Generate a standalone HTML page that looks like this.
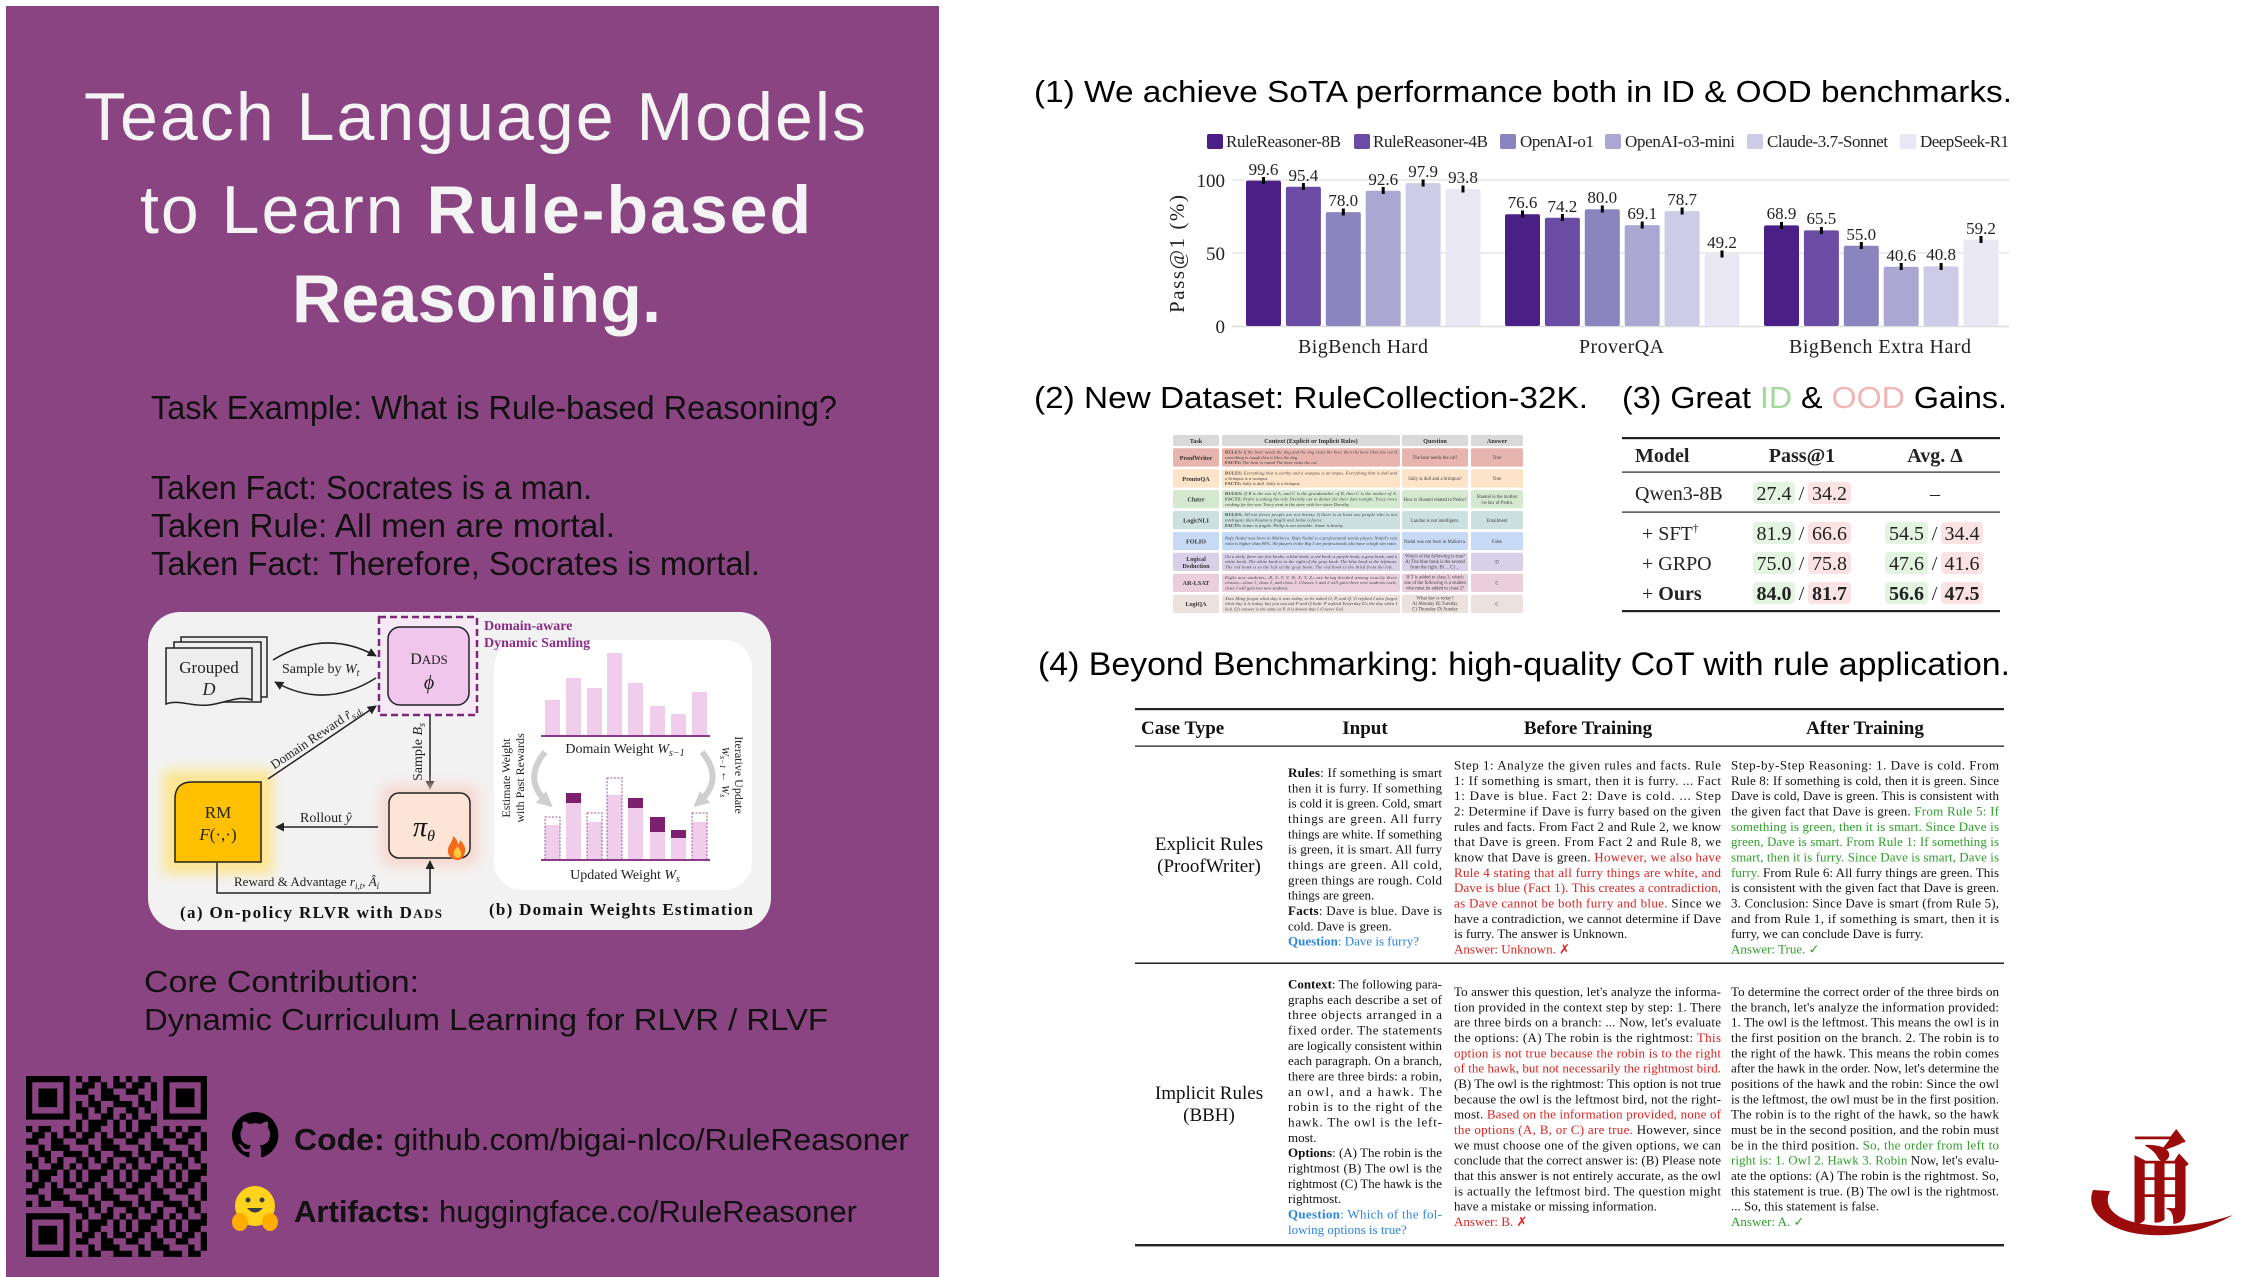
<!DOCTYPE html>
<html><head><meta charset="utf-8">
<style>
html,body{margin:0;padding:0;background:#fff;}
body{width:2258px;height:1277px;overflow:hidden;}
svg{display:block}
.sans{font-family:"Liberation Sans","Noto Sans CJK SC",sans-serif;}
.serif{font-family:"Liberation Serif","DejaVu Serif",serif;}
.b13{font-family:"Liberation Serif","DejaVu Serif",serif;font-size:13px;fill:#111;}
.red{fill:#D9231F}.grn{fill:#2E9E2A}.blu{fill:#2B86E0}
.tiny{font-family:"Liberation Serif",serif;font-size:4.6px;fill:#444;font-style:italic}
.tq{font-family:"Liberation Serif",serif;font-size:4.8px;fill:#444}
.tl{font-family:"Liberation Serif",serif;font-size:6.2px;fill:#333;font-weight:bold}
</style></head>
<body>
<svg width="2258" height="1277" viewBox="0 0 2258 1277" xmlns="http://www.w3.org/2000/svg">
<defs>
<marker id="ah" viewBox="0 0 10 10" refX="9" refY="5" markerWidth="6" markerHeight="6" orient="auto"><path d="M0 0L10 5L0 10z" fill="#222"/></marker>
<marker id="ahg" viewBox="0 0 10 10" refX="6" refY="5" markerWidth="2.6" markerHeight="2.6" orient="auto"><path d="M0 0L10 5L0 10z" fill="#cfcfcf"/></marker>
<filter id="blur" x="-30%" y="-30%" width="160%" height="160%"><feGaussianBlur stdDeviation="6"/></filter>
<pattern id="qrp" width="8" height="8" patternUnits="userSpaceOnUse">
<g fill="#000">
<rect x="0" y="0" width="1" height="1"/><rect x="2" y="0" width="2" height="1"/><rect x="6" y="0" width="1" height="1"/>
<rect x="1" y="1" width="2" height="1"/><rect x="4" y="1" width="1" height="1"/><rect x="6" y="1" width="2" height="1"/>
<rect x="0" y="2" width="2" height="1"/><rect x="4" y="2" width="2" height="1"/>
<rect x="2" y="3" width="1" height="1"/><rect x="4" y="3" width="3" height="1"/>
<rect x="0" y="4" width="1" height="1"/><rect x="2" y="4" width="2" height="1"/><rect x="6" y="4" width="2" height="1"/>
<rect x="0" y="5" width="2" height="1"/><rect x="3" y="5" width="1" height="1"/><rect x="5" y="5" width="1" height="1"/>
<rect x="1" y="6" width="1" height="1"/><rect x="4" y="6" width="2" height="1"/><rect x="7" y="6" width="1" height="1"/>
<rect x="0" y="7" width="1" height="1"/><rect x="2" y="7" width="3" height="1"/><rect x="6" y="7" width="1" height="1"/>
</g></pattern>
</defs>

<!-- ================= LEFT PURPLE PANEL ================= -->
<rect x="6" y="6" width="933" height="1271" fill="#8B4482"/>

<text class="sans" x="84" y="140" font-size="68" fill="#F4F4F4" textLength="782" lengthAdjust="spacing">Teach Language Models</text>
<text class="sans" x="140" y="233" font-size="68" fill="#F4F4F4" textLength="671" lengthAdjust="spacing">to Learn <tspan font-weight="bold">Rule-based</tspan></text>
<text class="sans" x="292" y="322" font-size="68" fill="#F4F4F4" font-weight="bold" textLength="369" lengthAdjust="spacing">Reasoning.</text>

<text class="sans" x="151" y="419" font-size="33" fill="#111" textLength="686" lengthAdjust="spacingAndGlyphs">Task Example: What is Rule-based Reasoning?</text>
<text class="sans" x="151" y="499" font-size="33" fill="#111" textLength="441" lengthAdjust="spacingAndGlyphs">Taken Fact: Socrates is a man.</text>
<text class="sans" x="151" y="537" font-size="33" fill="#111" textLength="464" lengthAdjust="spacingAndGlyphs">Taken Rule: All men are mortal.</text>
<text class="sans" x="151" y="575" font-size="33" fill="#111" textLength="609" lengthAdjust="spacingAndGlyphs">Taken Fact: Therefore, Socrates is mortal.</text>

<!-- Diagram -->
<g>
<rect x="148" y="612" width="623" height="318" rx="32" fill="#f2f2f2"/>
<rect x="494" y="640" width="258" height="250" rx="28" fill="#fff"/>
<path d="M181 637h86v60h-86z" fill="#eee" stroke="#222" stroke-width="1.5"/>
<path d="M174 642h87v60h-87z" fill="#eee" stroke="#222" stroke-width="1.5"/>
<path d="M166 648h86v52c-14-5-26 3-43 5c-18 2-30-6-43-1z" fill="#eee" stroke="#222" stroke-width="1.5"/>
<text class="serif" x="209" y="673" font-size="17" text-anchor="middle" fill="#222">Grouped</text>
<text class="serif" x="209" y="695" font-size="18" text-anchor="middle" font-style="italic" fill="#222">D</text>
<path d="M273 660 Q325 628 376 656" fill="none" stroke="#222" stroke-width="1.5" marker-end="url(#ah)"/>
<path d="M376 678 Q325 710 275 682" fill="none" stroke="#222" stroke-width="1.5" marker-end="url(#ah)"/>
<text class="serif" x="282" y="673" font-size="14" fill="#222">Sample by <tspan font-style="italic">W</tspan><tspan font-size="10" dy="3" font-style="italic">t</tspan></text>
<rect x="379" y="617" width="98" height="98" fill="#f7e8f5" stroke="#7B2A78" stroke-width="2.5" stroke-dasharray="7,4"/>
<rect x="388" y="627" width="81" height="78" rx="12" fill="#F1C6EC" stroke="#222" stroke-width="1.5"/>
<text class="serif" x="429" y="664" font-size="16" text-anchor="middle" fill="#222">D<tspan font-size="13">ADS</tspan></text>
<text class="serif" x="429" y="689" font-size="20" text-anchor="middle" font-style="italic" fill="#222">ϕ</text>
<text class="serif" x="484" y="630" font-size="14" font-weight="bold" fill="#8A2D86">Domain-aware</text>
<text class="serif" x="484" y="647" font-size="14" font-weight="bold" fill="#8A2D86">Dynamic Samling</text>
<line x1="430" y1="716" x2="430" y2="789" stroke="#222" stroke-width="1.5" marker-end="url(#ah)"/>
<text class="serif" transform="translate(422,752) rotate(-90)" font-size="14" text-anchor="middle" fill="#222">Sample <tspan font-style="italic">B</tspan><tspan font-size="10" dy="3" font-style="italic">s</tspan></text>
<rect x="163" y="770" width="110" height="104" fill="#FFE27A" filter="url(#blur)" opacity=".8"/>
<path d="M192 782H261V862H175V799Q175 782 192 782Z" fill="#FFC000" stroke="#222" stroke-width="1.5"/>
<text class="serif" x="218" y="818" font-size="17" text-anchor="middle" fill="#222">RM</text>
<text class="serif" x="218" y="840" font-size="17" text-anchor="middle" fill="#222"><tspan font-style="italic">F</tspan>(·,·)</text>
<rect x="380" y="784" width="99" height="83" rx="12" fill="#F9D3C8" filter="url(#blur)" opacity=".8"/>
<rect x="389" y="793" width="81" height="65" rx="10" fill="#FCE4D6" stroke="#222" stroke-width="1.5"/>
<text class="serif" x="424" y="836" font-size="28" text-anchor="middle" fill="#111" font-style="italic">π<tspan font-size="16" dy="5">θ</tspan></text>
<path d="M458 860c-9 0-12-8-9-14c2-4 4-6 4-10c4 3 5 6 5 9c1-2 2-3 2-5c4 4 6 8 5 12c-1 5-4 8-7 8z" fill="#F26B1D"/>
<path d="M458 858c-4 0-5-4-4-7c1-2 3-3 3-5c2 2 3 4 4 6c1 3-1 6-3 6z" fill="#FFC93C"/>
<line x1="378" y1="827" x2="276" y2="827" stroke="#222" stroke-width="1.5" marker-end="url(#ah)"/>
<text class="serif" x="300" y="822" font-size="14" fill="#222">Rollout <tspan font-style="italic">ŷ</tspan></text>
<path d="M217 863V893H430V861" fill="none" stroke="#222" stroke-width="1.5" marker-end="url(#ah)"/>
<text class="serif" x="234" y="886" font-size="13" fill="#222">Reward &amp; Advantage <tspan font-style="italic">r</tspan><tspan font-size="9" dy="3" font-style="italic">i,t</tspan><tspan dy="-3">, </tspan><tspan font-style="italic">Â</tspan><tspan font-size="9" dy="3" font-style="italic">i</tspan></text>
<line x1="268" y1="779" x2="376" y2="706" stroke="#222" stroke-width="1.5" marker-end="url(#ah)"/>
<text class="serif" transform="translate(318,740) rotate(-34)" font-size="13" text-anchor="middle" fill="#222">Domain Reward <tspan font-style="italic">r̃</tspan><tspan font-size="9" dy="3" font-style="italic">s,dᵢ</tspan></text>
<g fill="#F0CDEA">
<rect x="545" y="700" width="15" height="36"/><rect x="566" y="678" width="15" height="58"/><rect x="587" y="688" width="15" height="48"/><rect x="607" y="653" width="15" height="83"/>
<rect x="628" y="683" width="15" height="53"/><rect x="650" y="706" width="15" height="30"/><rect x="671" y="714" width="15" height="22"/><rect x="692" y="692" width="15" height="44"/>
</g>
<line x1="541" y1="736" x2="710" y2="736" stroke="#8B3A87" stroke-width="2"/>
<text class="serif" x="625" y="753" font-size="14" text-anchor="middle" fill="#222">Domain Weight <tspan font-style="italic">W</tspan><tspan font-size="10" dy="3" font-style="italic">s−1</tspan></text>
<g fill="#F0CDEA">
<rect x="545" y="825" width="15" height="35"/><rect x="566" y="793" width="15" height="67"/><rect x="587" y="822" width="15" height="38"/><rect x="607" y="795" width="15" height="65"/>
<rect x="628" y="798" width="15" height="62"/><rect x="650" y="817" width="15" height="43"/><rect x="671" y="830" width="15" height="30"/><rect x="692" y="822" width="15" height="38"/>
</g>
<g fill="none" stroke="#A0579B" stroke-width="1" stroke-dasharray="2,1.5">
<rect x="545" y="817" width="15" height="43"/><rect x="587" y="813" width="15" height="47"/><rect x="607" y="778" width="15" height="82"/><rect x="692" y="813" width="15" height="47"/>
</g>
<g fill="#7B1F6E">
<rect x="566" y="793" width="15" height="10"/><rect x="628" y="798" width="15" height="10"/><rect x="650" y="817" width="15" height="15"/><rect x="671" y="830" width="15" height="8"/>
</g>
<line x1="541" y1="860" x2="710" y2="860" stroke="#8B3A87" stroke-width="2"/>
<text class="serif" x="625" y="879" font-size="14" text-anchor="middle" fill="#222">Updated Weight <tspan font-style="italic">W</tspan><tspan font-size="10" dy="3" font-style="italic">s</tspan></text>
<path d="M545 752 Q522 780 548 803" fill="none" stroke="#cfcfcf" stroke-width="6" marker-end="url(#ahg)"/>
<path d="M702 752 Q725 780 698 803" fill="none" stroke="#cfcfcf" stroke-width="6" marker-end="url(#ahg)"/>
<text class="serif" transform="translate(510,778) rotate(-90)" font-size="12" text-anchor="middle" fill="#222">Estimate Weight</text>
<text class="serif" transform="translate(524,778) rotate(-90)" font-size="12" text-anchor="middle" fill="#222">with Past Rewards</text>
<text class="serif" transform="translate(735,775) rotate(90)" font-size="12" text-anchor="middle" fill="#222">Iterative Update</text>
<text class="serif" transform="translate(722,772) rotate(90)" font-size="11" text-anchor="middle" fill="#222" font-style="italic">W<tspan font-size="8" dy="2">s−1</tspan><tspan dy="-2"> ← W</tspan><tspan font-size="8" dy="2">s</tspan></text>
<text class="serif" x="180" y="918" font-size="17" font-weight="bold" fill="#111" textLength="262" lengthAdjust="spacing">(a) On-policy RLVR with D<tspan font-size="13">ADS</tspan></text>
<text class="serif" x="489" y="915" font-size="17" font-weight="bold" fill="#111" textLength="264" lengthAdjust="spacing">(b) Domain Weights Estimation</text>
</g>

<text class="sans" x="144" y="992" font-size="31" fill="#111" textLength="275" lengthAdjust="spacingAndGlyphs">Core Contribution:</text>
<text class="sans" x="144" y="1030" font-size="31" fill="#111" textLength="684" lengthAdjust="spacingAndGlyphs">Dynamic Curriculum Learning for RLVR / RLVF</text>

<!-- QR -->
<g transform="translate(26,1076) scale(6.24)">
<rect width="29" height="29" fill="url(#qrp)"/>
<rect x="0" y="0" width="8" height="8" fill="#8B4482"/><rect x="21" y="0" width="8" height="8" fill="#8B4482"/><rect x="0" y="21" width="8" height="8" fill="#8B4482"/>
<g fill="#000">
<path d="M0 0h7v7h-7zM1 1v5h5v-5z" fill-rule="evenodd"/><rect x="2" y="2" width="3" height="3"/>
<path d="M22 0h7v7h-7zM23 1v5h5v-5z" fill-rule="evenodd"/><rect x="24" y="2" width="3" height="3"/>
<path d="M0 22h7v7h-7zM1 23v5h5v-5z" fill-rule="evenodd"/><rect x="2" y="24" width="3" height="3"/>
</g></g>

<path transform="translate(232,1112) scale(2.9)" fill="#000" d="M8 0C3.58 0 0 3.58 0 8c0 3.54 2.290 6.53 5.47 7.59.4.07.55-.17.55-.38 0-.19-.01-.82-.01-1.49-2.01.37-2.53-.49-2.69-.94-.09-.23-.48-.94-.82-1.130-.28-.15-.68-.52-.01-.53.63-.01 1.08.58 1.23.82.72 1.21 1.87.87 2.33.66.07-.52.28-.87.51-1.07-1.78-.2-3.64-.89-3.64-3.95 0-.87.31-1.59.82-2.15-.08-.2-.36-1.02.08-2.12 0 0 .67-.21 2.2.82.64-.18 1.32-.27 2-.27.68 0 1.36.09 2 .27 1.53-1.04 2.2-.82 2.2-.82.44 1.1.16 1.92.08 2.12.51.56.82 1.27.82 2.15 0 3.07-1.87 3.75-3.65 3.95.29.25.54.73.54 1.48 0 1.07-.01 1.93-.01 2.2 0 .21.15.46.55.38A8.013 8.013 0 0016 8c0-4.42-3.58-8-8-8z"/>
<text class="sans" x="294" y="1150" font-size="31" fill="#111" textLength="615" lengthAdjust="spacingAndGlyphs"><tspan font-weight="bold">Code:</tspan> github.com/bigai-nlco/RuleReasoner</text>
<circle cx="255" cy="1206" r="20" fill="#FFD21E"/>
<circle cx="248" cy="1200" r="2.5" fill="#3a3b45"/><circle cx="262" cy="1200" r="2.5" fill="#3a3b45"/>
<path d="M247 1208q8 9 16 0z" fill="#3a3b45"/>
<ellipse cx="240" cy="1222" rx="8" ry="9" fill="#FFAC03"/><ellipse cx="270" cy="1222" rx="8" ry="9" fill="#FFAC03"/>
<text class="sans" x="294" y="1222" font-size="31" fill="#111" textLength="563" lengthAdjust="spacingAndGlyphs"><tspan font-weight="bold">Artifacts:</tspan> huggingface.co/RuleReasoner</text>

<!-- ================= (1) CHART ================= -->
<text class="sans" x="1034" y="102" font-size="31" fill="#000" textLength="978" lengthAdjust="spacingAndGlyphs">(1) We achieve SoTA performance both in ID &amp; OOD benchmarks.</text>
<g class="serif" font-size="17" fill="#222">
<rect x="1207" y="134" width="16" height="15" rx="2" fill="#4A1F86"/><text x="1226" y="147" textLength="115" lengthAdjust="spacing">RuleReasoner-8B</text>
<rect x="1354" y="134" width="16" height="15" rx="2" fill="#6A4CA4"/><text x="1373" y="147" textLength="115" lengthAdjust="spacing">RuleReasoner-4B</text>
<rect x="1500" y="134" width="16" height="15" rx="2" fill="#8A85BE"/><text x="1520" y="147" textLength="74" lengthAdjust="spacing">OpenAI-o1</text>
<rect x="1605" y="134" width="16" height="15" rx="2" fill="#ABA7D2"/><text x="1625" y="147" textLength="110" lengthAdjust="spacing">OpenAI-o3-mini</text>
<rect x="1747" y="134" width="16" height="15" rx="2" fill="#CDCBE5"/><text x="1767" y="147" textLength="121" lengthAdjust="spacing">Claude-3.7-Sonnet</text>
<rect x="1900" y="134" width="16" height="15" rx="2" fill="#E9E7F3"/><text x="1920" y="147" textLength="89" lengthAdjust="spacing">DeepSeek-R1</text>
</g>
<line x1="1232" y1="180" x2="2009" y2="180" stroke="#e6e6e6" stroke-width="1.5"/>
<line x1="1232" y1="253" x2="2009" y2="253" stroke="#e6e6e6" stroke-width="1.5"/>
<line x1="1232" y1="326.5" x2="2009" y2="326.5" stroke="#dcdcdc" stroke-width="1.5"/>
<g class="serif" font-size="19" fill="#222" text-anchor="end">
<text x="1225" y="187">100</text><text x="1225" y="260">50</text><text x="1225" y="333">0</text>
</g>
<text class="serif" transform="translate(1184,254) rotate(-90)" font-size="21" fill="#222" text-anchor="middle" textLength="118" lengthAdjust="spacing">Pass@1 (%)</text>
<g>
<rect x="1246" y="180.6" width="35" height="145.4" rx="2" fill="#4A1F86"/>
<rect x="1285.9" y="186.7" width="35" height="139.3" rx="2" fill="#6A4CA4"/>
<rect x="1325.8" y="212.1" width="35" height="113.9" rx="2" fill="#8A85BE"/>
<rect x="1365.7" y="190.8" width="35" height="135.2" rx="2" fill="#ABA7D2"/>
<rect x="1405.6" y="183.1" width="35" height="142.9" rx="2" fill="#CDCBE5"/>
<rect x="1445.5" y="189.1" width="35" height="136.9" rx="2" fill="#E9E7F3"/>
<rect x="1505" y="214.2" width="35" height="111.8" rx="2" fill="#4A1F86"/>
<rect x="1544.9" y="217.7" width="35" height="108.3" rx="2" fill="#6A4CA4"/>
<rect x="1584.8" y="209.2" width="35" height="116.8" rx="2" fill="#8A85BE"/>
<rect x="1624.7" y="225.1" width="35" height="100.9" rx="2" fill="#ABA7D2"/>
<rect x="1664.6" y="211.1" width="35" height="114.9" rx="2" fill="#CDCBE5"/>
<rect x="1704.5" y="254.2" width="35" height="71.8" rx="2" fill="#E9E7F3"/>
<rect x="1764" y="225.4" width="35" height="100.6" rx="2" fill="#4A1F86"/>
<rect x="1803.9" y="230.4" width="35" height="95.6" rx="2" fill="#6A4CA4"/>
<rect x="1843.8" y="245.7" width="35" height="80.3" rx="2" fill="#8A85BE"/>
<rect x="1883.7" y="266.7" width="35" height="59.3" rx="2" fill="#ABA7D2"/>
<rect x="1923.6" y="266.4" width="35" height="59.6" rx="2" fill="#CDCBE5"/>
<rect x="1963.5" y="239.6" width="35" height="86.4" rx="2" fill="#E9E7F3"/>
</g>
<g fill="#000">
<rect x="1262" y="177" width="3" height="7"/><rect x="1301.9" y="183" width="3" height="7"/><rect x="1341.8" y="208.5" width="3" height="7"/>
<rect x="1381.7" y="187" width="3" height="7"/><rect x="1421.6" y="179.5" width="3" height="7"/><rect x="1461.5" y="185.5" width="3" height="7"/>
<rect x="1521" y="210.5" width="3" height="7"/><rect x="1560.9" y="214" width="3" height="7"/><rect x="1600.8" y="205.5" width="3" height="7"/>
<rect x="1640.7" y="221.5" width="3" height="7"/><rect x="1680.6" y="207.5" width="3" height="7"/><rect x="1720.5" y="250.5" width="3" height="7"/>
<rect x="1780" y="222" width="3" height="7"/><rect x="1819.9" y="227" width="3" height="7"/><rect x="1859.8" y="242" width="3" height="7"/>
<rect x="1899.7" y="263" width="3" height="7"/><rect x="1939.6" y="263" width="3" height="7"/><rect x="1979.5" y="236" width="3" height="7"/>
</g>
<g class="serif" font-size="17" fill="#222" text-anchor="middle">
<text x="1263.5" y="175">99.6</text><text x="1303.4" y="181">95.4</text><text x="1343.3" y="206">78.0</text>
<text x="1383.2" y="185">92.6</text><text x="1423.1" y="177">97.9</text><text x="1463" y="183">93.8</text>
<text x="1522.5" y="208">76.6</text><text x="1562.4" y="212">74.2</text><text x="1602.3" y="203">80.0</text>
<text x="1642.2" y="219">69.1</text><text x="1682.1" y="205">78.7</text><text x="1722" y="248">49.2</text>
<text x="1781.5" y="219">68.9</text><text x="1821.4" y="224">65.5</text><text x="1861.3" y="240">55.0</text>
<text x="1901.2" y="261">40.6</text><text x="1941.1" y="260">40.8</text><text x="1981" y="234">59.2</text>
</g>
<g class="serif" font-size="20" fill="#222">
<text x="1298" y="353" textLength="130" lengthAdjust="spacing">BigBench Hard</text>
<text x="1579" y="353" textLength="85" lengthAdjust="spacing">ProverQA</text>
<text x="1789" y="353" textLength="182" lengthAdjust="spacing">BigBench Extra Hard</text>
</g>

<!-- ================= (2) DATASET ================= -->
<text class="sans" x="1034" y="408" font-size="31" fill="#000" textLength="554" lengthAdjust="spacingAndGlyphs">(2) New Dataset: RuleCollection-32K.</text>
<g>
<g fill="#D9D9D9">
<rect x="1173" y="435" width="46" height="11" rx="1.5"/><rect x="1222" y="435" width="178" height="11" rx="1.5"/><rect x="1402" y="435" width="66" height="11" rx="1.5"/><rect x="1471" y="435" width="52" height="11" rx="1.5"/>
</g>
<g class="tl" text-anchor="middle" font-size="5.5">
<text x="1196" y="443">Task</text><text x="1311" y="443">Context (Explicit or Implicit Rules)</text><text x="1435" y="443">Question</text><text x="1497" y="443">Answer</text>
</g>
<g fill="#E8B4AE"><rect x="1173" y="448.3" width="46" height="18.3" rx="1.5"/><rect x="1222" y="448.3" width="178" height="18.3" rx="1.5"/><rect x="1402" y="448.3" width="66" height="18.3" rx="1.5"/><rect x="1471" y="448.3" width="52" height="18.3" rx="1.5"/></g>
<g fill="#FDE3C8"><rect x="1173" y="469.3" width="46" height="18.3" rx="1.5"/><rect x="1222" y="469.3" width="178" height="18.3" rx="1.5"/><rect x="1402" y="469.3" width="66" height="18.3" rx="1.5"/><rect x="1471" y="469.3" width="52" height="18.3" rx="1.5"/></g>
<g fill="#D5E8D0"><rect x="1173" y="490" width="46" height="18.3" rx="1.5"/><rect x="1222" y="490" width="178" height="18.3" rx="1.5"/><rect x="1402" y="490" width="66" height="18.3" rx="1.5"/><rect x="1471" y="490" width="52" height="18.3" rx="1.5"/></g>
<g fill="#CCE0E0"><rect x="1173" y="511" width="46" height="18.3" rx="1.5"/><rect x="1222" y="511" width="178" height="18.3" rx="1.5"/><rect x="1402" y="511" width="66" height="18.3" rx="1.5"/><rect x="1471" y="511" width="52" height="18.3" rx="1.5"/></g>
<g fill="#C6D9F5"><rect x="1173" y="532" width="46" height="18.3" rx="1.5"/><rect x="1222" y="532" width="178" height="18.3" rx="1.5"/><rect x="1402" y="532" width="66" height="18.3" rx="1.5"/><rect x="1471" y="532" width="52" height="18.3" rx="1.5"/></g>
<g fill="#D8D0E8"><rect x="1173" y="552.7" width="46" height="18.3" rx="1.5"/><rect x="1222" y="552.7" width="178" height="18.3" rx="1.5"/><rect x="1402" y="552.7" width="66" height="18.3" rx="1.5"/><rect x="1471" y="552.7" width="52" height="18.3" rx="1.5"/></g>
<g fill="#EACFDB"><rect x="1173" y="573.7" width="46" height="18.3" rx="1.5"/><rect x="1222" y="573.7" width="178" height="18.3" rx="1.5"/><rect x="1402" y="573.7" width="66" height="18.3" rx="1.5"/><rect x="1471" y="573.7" width="52" height="18.3" rx="1.5"/></g>
<g fill="#EDE1DD"><rect x="1173" y="594.7" width="46" height="18.3" rx="1.5"/><rect x="1222" y="594.7" width="178" height="18.3" rx="1.5"/><rect x="1402" y="594.7" width="66" height="18.3" rx="1.5"/><rect x="1471" y="594.7" width="52" height="18.3" rx="1.5"/></g>
<g class="tl" text-anchor="middle">
<text x="1196" y="460">ProofWriter</text><text x="1196" y="481">ProntoQA</text><text x="1196" y="501.5">Clutrr</text><text x="1196" y="522.5">LogicNLI</text>
<text x="1196" y="543.5">FOLIO</text><text x="1196" y="561">Logical</text><text x="1196" y="568">Deduction</text><text x="1196" y="585">AR-LSAT</text><text x="1196" y="606">LogiQA</text>
</g>
<g class="tiny">
<text x="1225" y="453.5" textLength="172"><tspan font-weight="bold" font-style="normal">RULES:</tspan> If the bear needs the dog and the dog visits the bear then the bear likes the cat If</text>
<text x="1225" y="458.8">something is rough then it likes the dog</text>
<text x="1225" y="464.1"><tspan font-weight="bold" font-style="normal">FACTS:</tspan> The bear is round The bear visits the cat</text>
<text x="1225" y="474.5" textLength="172"><tspan font-weight="bold" font-style="normal">RULES:</tspan> Everything that is earthy and a wumpus is an impus. Everything that is dull and</text>
<text x="1225" y="479.8">a brimpus is a wumpus</text>
<text x="1225" y="485.1"><tspan font-weight="bold" font-style="normal">FACTS:</tspan> Sally is dull. Sally is a brimpus.</text>
<text x="1225" y="495.2" textLength="172"><tspan font-weight="bold" font-style="normal">RULES:</tspan> If B is the son of A, and C is the grandmother of B, then C is the mother of A.</text>
<text x="1225" y="500.5" textLength="172"><tspan font-weight="bold" font-style="normal">FACTS:</tspan> Pedro is taking his wife Dorothy out to dinner for their date tonight. Tracy loves</text>
<text x="1225" y="505.8">cooking for her son. Tracy went to the store with her sister Dorothy.</text>
<text x="1225" y="516.2" textLength="172"><tspan font-weight="bold" font-style="normal">RULES:</tspan> All not fierce people are not brainy. If there is at least one people who is not</text>
<text x="1225" y="521.5">intelligent, then Keaton is fragile and Jaime is fierce.</text>
<text x="1225" y="526.8"><tspan font-weight="bold" font-style="normal">FACTS:</tspan> Jaime is fragile. Philip is not sociable. Jaime is brainy.</text>
<text x="1225" y="539.5" textLength="172">Rafa Nadal was born in Mallorca. Rafa Nadal is a professional tennis player. Nadal's win</text>
<text x="1225" y="544.8" textLength="172">ratio is higher than 80%. All players in the Big 3 are professionals who have a high win ratio.</text>
<text x="1225" y="557.9" textLength="172">On a shelf, there are five books: a blue book, a red book, a purple book, a gray book, and a</text>
<text x="1225" y="563.2" textLength="172">white book. The white book is to the right of the gray book. The blue book is the leftmost.</text>
<text x="1225" y="568.5" textLength="168">The red book is to the left of the gray book. The red book is the third from the left.</text>
<text x="1225" y="578.9" textLength="172">Eight new students—R, S, T, V, W, X, Y, Z—are being divided among exactly three</text>
<text x="1225" y="584.2" textLength="172">classes—class 1, class 2, and class 3. Classes 1 and 2 will gain three new students each;</text>
<text x="1225" y="589.5">class 3 will gain two new students.</text>
<text x="1225" y="599.9" textLength="172">Xiao Ming forgot what day it was today, so he asked O, P, and Q. O replied I also forgot</text>
<text x="1225" y="605.2" textLength="172">what day it is today, but you can ask P and Q both. P replied Yesterday It's the day when I</text>
<text x="1225" y="610.5">lied. Q's answer is the same as P. It is known that 1.O never lied.</text>
</g>
<g class="tq" text-anchor="middle">
<text x="1435" y="459">The bear needs the cat?</text><text x="1497" y="459">True</text>
<text x="1435" y="480">Sally is dull and a brimpus?</text><text x="1497" y="480">True</text>
<text x="1435" y="501">How is Shantel related to Pedro?</text><text x="1497" y="498">Shantel is the mother</text><text x="1497" y="504">-in-law of Pedro.</text>
<text x="1435" y="522">Landon is not intelligent.</text><text x="1497" y="522">Entailment</text>
<text x="1435" y="543">Nadal was not born in Mallorca.</text><text x="1497" y="543">False</text>
<text x="1435" y="557.5">Which of the following is true?</text><text x="1435" y="563">A) The blue book is the second</text><text x="1435" y="568.5">from the right. B) ... C) ...</text><text x="1497" y="563.5">D</text>
<text x="1435" y="578.5">If T is added to class 3, which</text><text x="1435" y="584">one of the following is a student</text><text x="1435" y="589.5">who must be added to class 2?</text><text x="1497" y="584.5">C</text>
<text x="1435" y="599.5">What day is today?</text><text x="1435" y="605">A) Monday B) Tuesday</text><text x="1435" y="610.5">C) Thursday D) Sunday</text><text x="1497" y="605.5">C</text>
</g>
</g>

<!-- ================= (3) TABLE ================= -->
<text class="sans" x="1622" y="408" font-size="31" fill="#000" textLength="385" lengthAdjust="spacingAndGlyphs">(3) Great <tspan fill="#A3D99B">ID</tspan> &amp; <tspan fill="#F2B5B5">OOD</tspan> Gains.</text>
<rect x="1622" y="437" width="378" height="2.2" fill="#222"/>
<rect x="1622" y="471.5" width="378" height="1.2" fill="#222"/>
<rect x="1622" y="511.5" width="378" height="1.2" fill="#222"/>
<rect x="1622" y="610" width="378" height="2.2" fill="#222"/>
<g fill="#E3F4E1">
<rect x="1753" y="482" width="42" height="22" rx="4"/><rect x="1753" y="522" width="42" height="22" rx="4"/><rect x="1753" y="552" width="42" height="22" rx="4"/><rect x="1753" y="582" width="42" height="22" rx="4"/>
<rect x="1885" y="522" width="43" height="22" rx="4"/><rect x="1885" y="552" width="43" height="22" rx="4"/><rect x="1885" y="582" width="43" height="22" rx="4"/>
</g>
<g fill="#FBE3E3">
<rect x="1808" y="482" width="43" height="22" rx="4"/><rect x="1808" y="522" width="43" height="22" rx="4"/><rect x="1808" y="552" width="43" height="22" rx="4"/><rect x="1808" y="582" width="43" height="22" rx="4"/>
<rect x="1941" y="522" width="42" height="22" rx="4"/><rect x="1941" y="552" width="42" height="22" rx="4"/><rect x="1941" y="582" width="42" height="22" rx="4"/>
</g>
<g class="serif" font-size="20" fill="#222">
<text x="1635" y="462" font-weight="bold">Model</text>
<text x="1802" y="462" font-weight="bold" text-anchor="middle">Pass@1</text>
<text x="1935" y="462" font-weight="bold" text-anchor="middle">Avg. Δ</text>
<text x="1635" y="500">Qwen3-8B</text>
<text x="1642" y="540">+ SFT<tspan font-size="12" dy="-8">†</tspan></text>
<text x="1642" y="570">+ GRPO</text>
<text x="1642" y="600">+ <tspan font-weight="bold">Ours</tspan></text>
<g text-anchor="middle">
<text x="1774" y="500">27.4</text><text x="1801.5" y="500">/</text><text x="1829.5" y="500">34.2</text><text x="1935" y="500">–</text>
<text x="1774" y="540">81.9</text><text x="1801.5" y="540">/</text><text x="1829.5" y="540">66.6</text>
<text x="1906.5" y="540">54.5</text><text x="1934.5" y="540">/</text><text x="1962" y="540">34.4</text>
<text x="1774" y="570">75.0</text><text x="1801.5" y="570">/</text><text x="1829.5" y="570">75.8</text>
<text x="1906.5" y="570">47.6</text><text x="1934.5" y="570">/</text><text x="1962" y="570">41.6</text>
<text x="1774" y="600" font-weight="bold">84.0</text><text x="1801.5" y="600">/</text><text x="1829.5" y="600" font-weight="bold">81.7</text>
<text x="1906.5" y="600" font-weight="bold">56.6</text><text x="1934.5" y="600">/</text><text x="1962" y="600" font-weight="bold">47.5</text>
</g>
</g>

<!-- ================= (4) CASE TABLE ================= -->
<text class="sans" x="1038" y="675" font-size="32" fill="#000" textLength="972" lengthAdjust="spacingAndGlyphs">(4) Beyond Benchmarking: high-quality CoT with rule application.</text>
<rect x="1135" y="708" width="869" height="2.2" fill="#222"/>
<rect x="1135" y="745.5" width="869" height="1.3" fill="#222"/>
<rect x="1135" y="962.5" width="869" height="1.5" fill="#222"/>
<rect x="1135" y="1244" width="869" height="2.4" fill="#222"/>
<g class="serif" font-size="19" font-weight="bold" fill="#111">
<text x="1141" y="734">Case Type</text>
<text x="1365" y="734" text-anchor="middle">Input</text>
<text x="1588" y="734" text-anchor="middle">Before Training</text>
<text x="1865" y="734" text-anchor="middle">After Training</text>
</g>
<g class="serif" font-size="19" fill="#111" text-anchor="middle">
<text x="1209" y="850">Explicit Rules</text><text x="1209" y="872">(ProofWriter)</text>
<text x="1209" y="1099">Implicit Rules</text><text x="1209" y="1121">(BBH)</text>
</g>

<g class="b13">
<text x="1288" y="777" textLength="154" lengthAdjust="spacing"><tspan font-weight="bold">Rules</tspan>: If something is smart</text>
<text x="1288" y="792.3" textLength="154" lengthAdjust="spacing">then it is furry. If something</text>
<text x="1288" y="807.7" textLength="154" lengthAdjust="spacing">is cold it is green. Cold, smart</text>
<text x="1288" y="823" textLength="154" lengthAdjust="spacing">things are green. All furry</text>
<text x="1288" y="838.3" textLength="154" lengthAdjust="spacing">things are white. If something</text>
<text x="1288" y="853.7" textLength="154" lengthAdjust="spacing">is green, it is smart. All furry</text>
<text x="1288" y="869" textLength="154" lengthAdjust="spacing">things are green. All cold,</text>
<text x="1288" y="884.3" textLength="154" lengthAdjust="spacing">green things are rough. Cold</text>
<text x="1288" y="899.7">things are green.</text>
<text x="1288" y="915" textLength="154" lengthAdjust="spacing"><tspan font-weight="bold">Facts</tspan>: Dave is blue. Dave is</text>
<text x="1288" y="930.3">cold. Dave is green.</text>
<text x="1288" y="945.7" class="blu"><tspan font-weight="bold">Question</tspan>: Dave is furry?</text>
</g>
<g class="b13">
<text x="1454" y="769.5" textLength="267" lengthAdjust="spacing">Step 1: Analyze the given rules and facts. Rule</text>
<text x="1454" y="784.8" textLength="267" lengthAdjust="spacing">1: If something is smart, then it is furry. ... Fact</text>
<text x="1454" y="800.2" textLength="267" lengthAdjust="spacing">1: Dave is blue. Fact 2: Dave is cold. ... Step</text>
<text x="1454" y="815.5" textLength="267" lengthAdjust="spacing">2: Determine if Dave is furry based on the given</text>
<text x="1454" y="830.8" textLength="267" lengthAdjust="spacing">rules and facts. From Fact 2 and Rule 2, we know</text>
<text x="1454" y="846.2" textLength="267" lengthAdjust="spacing">that Dave is green. From Fact 2 and Rule 8, we</text>
<text x="1454" y="861.5" textLength="267" lengthAdjust="spacing">know that Dave is green. <tspan class="red">However, we also have</tspan></text>
<text x="1454" y="876.8" textLength="267" lengthAdjust="spacing" class="red">Rule 4 stating that all furry things are white, and</text>
<text x="1454" y="892.2" textLength="267" lengthAdjust="spacing" class="red">Dave is blue (Fact 1). This creates a contradiction,</text>
<text x="1454" y="907.5" textLength="267" lengthAdjust="spacing"><tspan class="red">as Dave cannot be both furry and blue.</tspan> Since we</text>
<text x="1454" y="922.8" textLength="267" lengthAdjust="spacing">have a contradiction, we cannot determine if Dave</text>
<text x="1454" y="938.2">is furry. The answer is Unknown.</text>
<text x="1454" y="953.5" class="red">Answer: Unknown. ✗</text>
</g>
<g class="b13">
<text x="1731" y="769.5" textLength="268" lengthAdjust="spacing">Step-by-Step Reasoning: 1. Dave is cold. From</text>
<text x="1731" y="784.8" textLength="268" lengthAdjust="spacing">Rule 8: If something is cold, then it is green. Since</text>
<text x="1731" y="800.2" textLength="268" lengthAdjust="spacing">Dave is cold, Dave is green. This is consistent with</text>
<text x="1731" y="815.5" textLength="268" lengthAdjust="spacing">the given fact that Dave is green. <tspan class="grn">From Rule 5: If</tspan></text>
<text x="1731" y="830.8" textLength="268" lengthAdjust="spacing" class="grn">something is green, then it is smart. Since Dave is</text>
<text x="1731" y="846.2" textLength="268" lengthAdjust="spacing" class="grn">green, Dave is smart. From Rule 1: If something is</text>
<text x="1731" y="861.5" textLength="268" lengthAdjust="spacing" class="grn">smart, then it is furry. Since Dave is smart, Dave is</text>
<text x="1731" y="876.8" textLength="268" lengthAdjust="spacing"><tspan class="grn">furry.</tspan> From Rule 6: All furry things are green. This</text>
<text x="1731" y="892.2" textLength="268" lengthAdjust="spacing">is consistent with the given fact that Dave is green.</text>
<text x="1731" y="907.5" textLength="268" lengthAdjust="spacing">3. Conclusion: Since Dave is smart (from Rule 5),</text>
<text x="1731" y="922.8" textLength="268" lengthAdjust="spacing">and from Rule 1, if something is smart, then it is</text>
<text x="1731" y="938.2">furry, we can conclude Dave is furry.</text>
<text x="1731" y="953.5" class="grn">Answer: True. ✓</text>
</g>

<g class="b13">
<text x="1288" y="988.5" textLength="154" lengthAdjust="spacing"><tspan font-weight="bold">Context</tspan>: The following para-</text>
<text x="1288" y="1003.8" textLength="154" lengthAdjust="spacing">graphs each describe a set of</text>
<text x="1288" y="1019.2" textLength="154" lengthAdjust="spacing">three objects arranged in a</text>
<text x="1288" y="1034.5" textLength="154" lengthAdjust="spacing">fixed order. The statements</text>
<text x="1288" y="1049.8" textLength="154" lengthAdjust="spacing">are logically consistent within</text>
<text x="1288" y="1065.2" textLength="154" lengthAdjust="spacing">each paragraph. On a branch,</text>
<text x="1288" y="1080.5" textLength="154" lengthAdjust="spacing">there are three birds: a robin,</text>
<text x="1288" y="1095.8" textLength="154" lengthAdjust="spacing">an owl, and a hawk. The</text>
<text x="1288" y="1111.2" textLength="154" lengthAdjust="spacing">robin is to the right of the</text>
<text x="1288" y="1126.5" textLength="154" lengthAdjust="spacing">hawk. The owl is the left-</text>
<text x="1288" y="1141.8">most.</text>
<text x="1288" y="1157.2" textLength="154" lengthAdjust="spacing"><tspan font-weight="bold">Options</tspan>: (A) The robin is the</text>
<text x="1288" y="1172.5" textLength="154" lengthAdjust="spacing">rightmost (B) The owl is the</text>
<text x="1288" y="1187.8" textLength="154" lengthAdjust="spacing">rightmost (C) The hawk is the</text>
<text x="1288" y="1203.2">rightmost.</text>
<text x="1288" y="1218.5" textLength="154" lengthAdjust="spacing" class="blu"><tspan font-weight="bold">Question</tspan>: Which of the fol-</text>
<text x="1288" y="1233.8" class="blu">lowing options is true?</text>
</g>
<g class="b13">
<text x="1454" y="996" textLength="267" lengthAdjust="spacing">To answer this question, let's analyze the informa-</text>
<text x="1454" y="1011.3" textLength="267" lengthAdjust="spacing">tion provided in the context step by step: 1. There</text>
<text x="1454" y="1026.7" textLength="267" lengthAdjust="spacing">are three birds on a branch: ... Now, let's evaluate</text>
<text x="1454" y="1042" textLength="267" lengthAdjust="spacing">the options: (A) The robin is the rightmost: <tspan class="red">This</tspan></text>
<text x="1454" y="1057.3" textLength="267" lengthAdjust="spacing" class="red">option is not true because the robin is to the right</text>
<text x="1454" y="1072.7" textLength="267" lengthAdjust="spacing" class="red">of the hawk, but not necessarily the rightmost bird.</text>
<text x="1454" y="1088" textLength="267" lengthAdjust="spacing">(B) The owl is the rightmost: This option is not true</text>
<text x="1454" y="1103.3" textLength="267" lengthAdjust="spacing">because the owl is the leftmost bird, not the right-</text>
<text x="1454" y="1118.7" textLength="267" lengthAdjust="spacing">most. <tspan class="red">Based on the information provided, none of</tspan></text>
<text x="1454" y="1134" textLength="267" lengthAdjust="spacing"><tspan class="red">the options (A, B, or C) are true.</tspan> However, since</text>
<text x="1454" y="1149.3" textLength="267" lengthAdjust="spacing">we must choose one of the given options, we can</text>
<text x="1454" y="1164.7" textLength="267" lengthAdjust="spacing">conclude that the correct answer is: (B) Please note</text>
<text x="1454" y="1180" textLength="267" lengthAdjust="spacing">that this answer is not entirely accurate, as the owl</text>
<text x="1454" y="1195.3" textLength="267" lengthAdjust="spacing">is actually the leftmost bird. The question might</text>
<text x="1454" y="1210.7">have a mistake or missing information.</text>
<text x="1454" y="1226" class="red">Answer: B. ✗</text>
</g>
<g class="b13">
<text x="1731" y="996" textLength="268" lengthAdjust="spacing">To determine the correct order of the three birds on</text>
<text x="1731" y="1011.3" textLength="268" lengthAdjust="spacing">the branch, let's analyze the information provided:</text>
<text x="1731" y="1026.7" textLength="268" lengthAdjust="spacing">1. The owl is the leftmost. This means the owl is in</text>
<text x="1731" y="1042" textLength="268" lengthAdjust="spacing">the first position on the branch. 2. The robin is to</text>
<text x="1731" y="1057.3" textLength="268" lengthAdjust="spacing">the right of the hawk. This means the robin comes</text>
<text x="1731" y="1072.7" textLength="268" lengthAdjust="spacing">after the hawk in the order. Now, let's determine the</text>
<text x="1731" y="1088" textLength="268" lengthAdjust="spacing">positions of the hawk and the robin: Since the owl</text>
<text x="1731" y="1103.3" textLength="268" lengthAdjust="spacing">is the leftmost, the owl must be in the first position.</text>
<text x="1731" y="1118.7" textLength="268" lengthAdjust="spacing">The robin is to the right of the hawk, so the hawk</text>
<text x="1731" y="1134" textLength="268" lengthAdjust="spacing">must be in the second position, and the robin must</text>
<text x="1731" y="1149.3" textLength="268" lengthAdjust="spacing">be in the third position. <tspan class="grn">So, the order from left to</tspan></text>
<text x="1731" y="1164.7" textLength="268" lengthAdjust="spacing"><tspan class="grn">right is: 1. Owl 2. Hawk 3. Robin</tspan> Now, let's evalu-</text>
<text x="1731" y="1180" textLength="268" lengthAdjust="spacing">ate the options: (A) The robin is the rightmost. So,</text>
<text x="1731" y="1195.3" textLength="268" lengthAdjust="spacing">this statement is true. (B) The owl is the rightmost.</text>
<text x="1731" y="1210.7">... So, this statement is false.</text>
<text x="1731" y="1226" class="grn">Answer: A. ✓</text>
</g>

<!-- logo -->
<path d="M2093 1190C2084 1212 2110 1233 2150 1235C2186 1237 2214 1226 2233 1215C2206 1224 2176 1228 2150 1225C2120 1222 2101 1210 2110 1191Z" fill="#9C0B0B"/>
<text transform="translate(2160,1214) scale(0.72,1)" font-family="'Noto Serif CJK SC','Noto Sans CJK SC',serif" font-weight="900" font-size="100" fill="#9C0B0B" text-anchor="middle">甬</text>
</svg>
</body></html>
